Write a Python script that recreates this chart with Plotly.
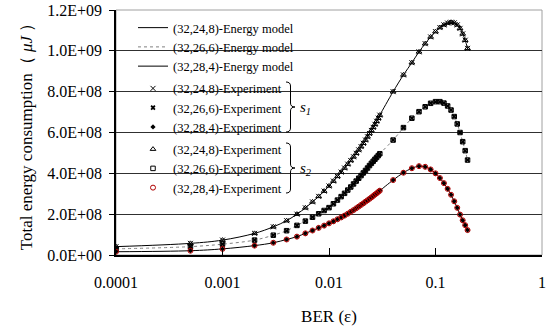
import plotly.graph_objects as go

# ---------------- data ----------------
ber = [0.0001, 0.0005, 0.001, 0.002, 0.003, 0.004, 0.005, 0.006, 0.007, 0.008, 0.009,
       0.010, 0.011, 0.012, 0.013, 0.014, 0.015, 0.016, 0.017, 0.018, 0.019, 0.020,
       0.021, 0.022, 0.023, 0.024, 0.025, 0.026, 0.027, 0.028, 0.029, 0.030,
       0.04, 0.05, 0.06, 0.07, 0.08, 0.09, 0.10, 0.11, 0.12, 0.13, 0.14, 0.15,
       0.16, 0.17, 0.18, 0.19, 0.20]

energy_24_8 = [4.1e7, 5.7e7, 7.3e7, 1.06e8, 1.38e8, 1.68e8, 2.00e8, 2.31e8, 2.60e8, 2.87e8, 3.13e8,
               3.38e8, 3.62e8, 3.85e8, 4.06e8, 4.26e8, 4.45e8, 4.63e8, 4.81e8, 4.98e8, 5.15e8, 5.31e8,
               5.47e8, 5.63e8, 5.79e8, 5.95e8, 6.10e8, 6.25e8, 6.40e8, 6.55e8, 6.70e8, 6.85e8,
               8.00e8, 8.82e8, 9.42e8, 9.95e8, 1.035e9, 1.068e9, 1.094e9, 1.114e9, 1.127e9, 1.136e9,
               1.140e9, 1.137e9, 1.127e9, 1.110e9, 1.083e9, 1.052e9, 1.012e9]

energy_26_6 = [3.0e7, 4.1e7, 5.3e7, 7.3e7, 9.7e7, 1.19e8, 1.45e8, 1.66e8, 1.85e8, 2.02e8, 2.18e8,
               2.32e8, 2.51e8, 2.69e8, 2.86e8, 3.02e8, 3.18e8, 3.33e8, 3.48e8, 3.62e8, 3.76e8, 3.89e8,
               4.02e8, 4.14e8, 4.26e8, 4.38e8, 4.49e8, 4.59e8, 4.69e8, 4.78e8, 4.87e8, 4.96e8,
               5.63e8, 6.24e8, 6.70e8, 7.02e8, 7.26e8, 7.43e8, 7.51e8, 7.51e8, 7.44e8, 7.30e8,
               7.10e8, 6.78e8, 6.42e8, 6.00e8, 5.55e8, 5.11e8, 4.65e8]

energy_28_4 = [1.6e7, 2.1e7, 3.0e7, 4.6e7, 6.0e7, 7.6e7, 9.0e7, 1.06e8, 1.20e8, 1.33e8, 1.44e8,
               1.55e8, 1.65e8, 1.75e8, 1.84e8, 1.93e8, 2.02e8, 2.115e8, 2.20e8, 2.29e8, 2.37e8, 2.455e8,
               2.53e8, 2.61e8, 2.68e8, 2.75e8, 2.82e8, 2.89e8, 2.96e8, 3.02e8, 3.09e8, 3.15e8,
               3.67e8, 4.03e8, 4.25e8, 4.35e8, 4.32e8, 4.19e8, 4.00e8, 3.77e8, 3.52e8, 3.24e8,
               2.95e8, 2.63e8, 2.31e8, 1.98e8, 1.70e8, 1.46e8, 1.22e8]

x_tickvals = [0.0001, 0.001, 0.01, 0.1, 1]
x_ticktext = ["0.0001", "0.001", "0.01", "0.1", "1"]
y_tickvals = [0, 2e8, 4e8, 6e8, 8e8, 1.0e9, 1.2e9]
y_ticktext = ["0.0E+00", "2.0E+08", "4.0E+08", "6.0E+08", "8.0E+08", "1.0E+09", "1.2E+09"]

model_names = ["(32,24,8)-Energy model", "(32,26,6)-Energy model", "(32,28,4)-Energy model"]
exp_names = ["(32,24,8)-Experiment", "(32,26,6)-Experiment", "(32,28,4)-Experiment"]
series = [energy_24_8, energy_26_6, energy_28_4]

# ---------------- layout geometry ----------------
W, H = 552, 336
ML, MR, MT, MB = 116, 10, 10, 81
PW, PH = W - ML - MR, H - MT - MB

def px_x(px):
    return (px - ML) / PW

def px_y(py):
    return (H - MB - py) / PH

FONT = "Liberation Serif"
fig = go.Figure()

line_styles = [dict(color="black", width=1, dash="solid"),
               dict(color="#808080", width=1, dash="dot"),
               dict(color="black", width=1, dash="solid")]
for name, ys, ls in zip(model_names, series, line_styles):
    fig.add_trace(go.Scatter(x=ber, y=ys, mode="lines", name=name, line=ls,
                             line_shape="spline", legendgroup="model"))

s1_markers = [dict(symbol="x-thin", size=5, color="black", line=dict(width=1, color="black")),
              dict(symbol="x", size=4.5, color="black", line=dict(width=0)),
              dict(symbol="diamond", size=4, color="black", line=dict(width=0))]
for name, ys, mk in zip(exp_names, series, s1_markers):
    fig.add_trace(go.Scatter(x=ber, y=ys, mode="markers", name=name, marker=mk,
                             legendgroup="s1"))

s2_markers = [dict(symbol="triangle-up-open", size=5, color="black", line=dict(width=1)),
              dict(symbol="square-open", size=4.5, color="black", line=dict(width=1)),
              dict(symbol="circle-open", size=5, color="#B00000", line=dict(width=1))]
for name, ys, mk in zip(exp_names, series, s2_markers):
    fig.add_trace(go.Scatter(x=ber, y=ys, mode="markers", name=name, marker=mk,
                             legendgroup="s2"))

# legend decorations (braces + s1/s2 labels)
def brace(x0, x1, yt, yb):
    ym = (yt + yb) / 2
    xa = (x0 + x1) / 2
    r = 4
    pts = [
        f"M {px_x(x0)},{px_y(yt)}",
        f"Q {px_x(xa)},{px_y(yt)} {px_x(xa)},{px_y(yt + r)}",
        f"L {px_x(xa)},{px_y(ym - r)}",
        f"Q {px_x(xa)},{px_y(ym)} {px_x(x1)},{px_y(ym)}",
        f"Q {px_x(xa)},{px_y(ym)} {px_x(xa)},{px_y(ym + r)}",
        f"L {px_x(xa)},{px_y(yb - r)}",
        f"Q {px_x(xa)},{px_y(yb)} {px_x(x0)},{px_y(yb)}",
    ]
    return " ".join(pts)

shapes = [
    dict(type="rect", xref="paper", yref="paper", x0=0, x1=1, y0=0, y1=1,
         line=dict(color="#A0A0A0", width=1), layer="below"),
    dict(type="rect", xref="paper", yref="paper", x0=px_x(128), x1=px_x(322),
         y0=px_y(200), y1=px_y(14), fillcolor="white", line=dict(width=0), layer="between"),
    dict(type="path", xref="paper", yref="paper", path=brace(286, 295, 82, 132),
         line=dict(color="black", width=1), layer="above"),
    dict(type="path", xref="paper", yref="paper", path=brace(286, 295, 143, 193),
         line=dict(color="black", width=1), layer="above"),
]

annotations = [
    dict(xref="paper", yref="paper", x=px_x(298), y=px_y(108), xanchor="left", yanchor="middle",
         text="<i>s<sub>1</sub></i>", showarrow=False, font=dict(family=FONT, size=15, color="black")),
    dict(xref="paper", yref="paper", x=px_x(298), y=px_y(169), xanchor="left", yanchor="middle",
         text="<i>s<sub>2</sub></i>", showarrow=False, font=dict(family=FONT, size=15, color="black")),
]

fig.update_layout(
    template="none",
    width=W, height=H,
    margin=dict(l=ML, r=MR, t=MT, b=MB, pad=0, autoexpand=False),
    paper_bgcolor="white", plot_bgcolor="white",
    font=dict(family=FONT, size=16, color="black"),
    showlegend=True,
    legend=dict(x=px_x(133), y=px_y(13), xanchor="left", yanchor="top",
                bgcolor="rgba(0,0,0,0)", borderwidth=0,
                font=dict(family=FONT, size=12.5, color="black"),
                tracegroupgap=3, itemwidth=30),
    shapes=shapes,
    annotations=annotations,
    xaxis=dict(type="log", range=[-4, 0], tickvals=x_tickvals, ticktext=x_ticktext,
               ticks="inside", ticklen=7, tickcolor="black", tickwidth=1,
               showline=True, linecolor="black", linewidth=1.5,
               showgrid=False, zeroline=False, automargin=False,
               tickfont=dict(family=FONT, size=16, color="black"),
               ticklabelstandoff=12,
               title=dict(text="BER (ε)", font=dict(family=FONT, size=17, color="black"),
                          standoff=20)),
    yaxis=dict(range=[0, 1.2e9], tickvals=y_tickvals, ticktext=y_ticktext,
               ticks="outside", ticklen=5, tickcolor="black", tickwidth=1,
               showline=True, linecolor="black", linewidth=1.5,
               showgrid=True, gridcolor="#303030", gridwidth=1.2,
               zeroline=False, automargin=False,
               tickfont=dict(family=FONT, size=16, color="black"),
               ticklabelstandoff=4,
               title=dict(text="Total energy consumption（ <i>μJ</i> ）",
                          font=dict(family=FONT, size=17, color="black"), standoff=10)),
)

fig.write_html("out.html")
